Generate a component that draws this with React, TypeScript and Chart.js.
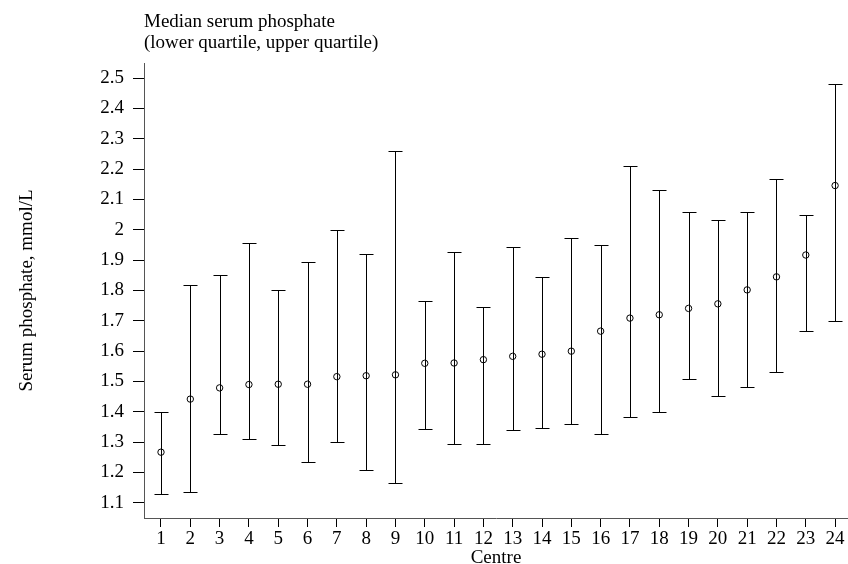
import { useEffect, useRef } from 'react';
import { Chart, registerables } from 'chart.js';

Chart.register(...registerables);

const centres = [1, 2, 3, 4, 5, 6, 7, 8, 9, 10, 11, 12, 13, 14, 15, 16, 17, 18, 19, 20, 21, 22, 23, 24];
const medians = [1.267, 1.442, 1.479, 1.49, 1.491, 1.491, 1.516, 1.519, 1.522, 1.56, 1.561, 1.572, 1.583, 1.59, 1.6, 1.666, 1.709, 1.72, 1.741, 1.756, 1.802, 1.845, 1.917, 2.146];
const lowerQuartiles = [1.129, 1.135, 1.327, 1.309, 1.29, 1.234, 1.299, 1.209, 1.164, 1.345, 1.295, 1.295, 1.34, 1.347, 1.36, 1.327, 1.384, 1.401, 1.507, 1.452, 1.482, 1.532, 1.665, 1.7];
const upperQuartiles = [1.4, 1.819, 1.85, 1.958, 1.803, 1.895, 2.0, 1.92, 2.26, 1.767, 1.928, 1.746, 1.942, 1.846, 1.973, 1.95, 2.21, 2.13, 2.058, 2.032, 2.06, 2.169, 2.049, 2.481];
const yTicks = [1.1, 1.2, 1.3, 1.4, 1.5, 1.6, 1.7, 1.8, 1.9, 2, 2.1, 2.2, 2.3, 2.4, 2.5];

const FONT = 'Liberation Serif, Times New Roman, serif';

// whiskers from lower to upper quartile, with caps
const errorBars = {
  id: 'errorBars',
  beforeDatasetsDraw(chart: Chart) {
    const { ctx } = chart;
    const x = chart.scales.x;
    const y = chart.scales.y;
    ctx.save();
    ctx.strokeStyle = '#000';
    ctx.lineWidth = 1;
    centres.forEach((c, i) => {
      const px = Math.round(x.getPixelForValue(c)) + 0.5;
      const lo = Math.round(y.getPixelForValue(lowerQuartiles[i])) + 0.5;
      const hi = Math.round(y.getPixelForValue(upperQuartiles[i])) + 0.5;
      ctx.beginPath();
      ctx.moveTo(px, lo);
      ctx.lineTo(px, hi);
      ctx.moveTo(px - 7, lo);
      ctx.lineTo(px + 7, lo);
      ctx.moveTo(px - 7, hi);
      ctx.lineTo(px + 7, hi);
      ctx.stroke();
    });
    ctx.restore();
  },
};

export default function App() {
  const canvasRef = useRef<HTMLCanvasElement>(null);

  useEffect(() => {
    document.body.style.margin = '0';
    if (!canvasRef.current) return;
    const chart = new Chart(canvasRef.current, {
      type: 'scatter',
      data: {
        datasets: [{
          data: centres.map((c, i) => ({ x: c, y: medians[i] })),
          pointRadius: 3.2,
          pointBorderWidth: 1,
          pointBorderColor: '#000',
          pointBackgroundColor: 'rgba(0,0,0,0)',
          showLine: false,
        }],
      },
      options: {
        animation: false,
        responsive: false,
        devicePixelRatio: 1,
        layout: { padding: 0, autoPadding: false },
        plugins: {
          legend: { display: false },
          tooltip: { enabled: false },
          title: {
            display: true,
            text: ['Median serum phosphate', '(lower quartile, upper quartile)'],
            align: 'start',
            fullSize: false,
            color: '#000',
            font: { family: FONT, size: 19, weight: 'normal', lineHeight: 1.1 },
            padding: { top: 12, bottom: 9.2 },
          },
        },
        scales: {
          x: {
            type: 'linear',
            min: 0.42,
            max: 24.44,
            afterBuildTicks: (scale: any) => { scale.ticks = centres.map(v => ({ value: v })); },
            afterFit: (scale: any) => { scale.height = 46; },
            grid: { drawOnChartArea: false, drawTicks: true, tickLength: 9, color: '#000' },
            border: { display: true, color: '#555', width: 1 },
            ticks: { color: '#000', padding: 1, maxRotation: 0, autoSkip: false, font: { family: FONT, size: 19 } },
            title: {
              display: true,
              text: 'Centre',
              color: '#000',
              padding: 0,
              font: { family: FONT, size: 19, lineHeight: 0.6 },
            },
          },
          y: {
            type: 'linear',
            min: 1.05,
            max: 2.55,
            afterBuildTicks: (scale: any) => { scale.ticks = yTicks.map(v => ({ value: v })); },
            afterFit: (scale: any) => { scale.width = 144; },
            grid: { drawOnChartArea: false, drawTicks: true, tickLength: 11, color: '#000' },
            border: { display: true, color: '#555', width: 1 },
            ticks: {
              color: '#000',
              padding: 9,
              font: { family: FONT, size: 19 },
              callback: (v: any) => String(Math.round(v * 10) / 10),
            },
            title: {
              display: true,
              text: 'Serum phosphate, mmol/L',
              color: '#000',
              padding: { top: 16, bottom: 0 },
              font: { family: FONT, size: 19, lineHeight: 1.2 },
            },
          },
        },
      },
      plugins: [errorBars],
    });
    return () => chart.destroy();
  }, []);

  return (
    <div style={{ width: 848, height: 564, background: '#fff' }}>
      <canvas ref={canvasRef} width={848} height={564} />
    </div>
  );
}
